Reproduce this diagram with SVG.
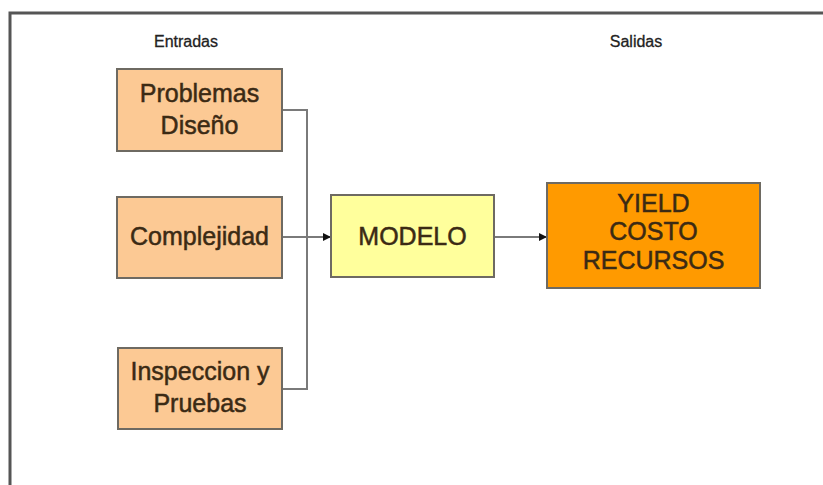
<svg xmlns="http://www.w3.org/2000/svg" width="823" height="485" viewBox="0 0 823 485">
<defs>
<style>
.box{stroke:#6e6a62;stroke-width:2}
.in{fill:#fcc994}
.t{font-family:"Liberation Sans",Arial,sans-serif;font-size:25px;fill:#3b2a14;stroke:#3b2a14;stroke-width:0.5;text-anchor:middle}
.h{font-family:"Liberation Sans",Arial,sans-serif;font-size:16px;fill:#222;stroke:#222;stroke-width:0.3;text-anchor:middle}
.c{fill:none;stroke:#7a7a7a;stroke-width:2}
</style>
<marker id="ar" markerWidth="8" markerHeight="8" refX="7" refY="4" orient="auto" markerUnits="userSpaceOnUse">
<path d="M0,0 L8,4 L0,8 z" fill="#111"/>
</marker>
</defs>
<rect width="823" height="485" fill="#fff"/>
<path d="M10,485 L10,13 L823,13" fill="none" stroke="#555" stroke-width="3"/>
<text class="h" x="186" y="47">Entradas</text>
<text class="h" x="636" y="47">Salidas</text>
<g id="connectors">
<path class="c" d="M282,110 L307,110 L307,389 L282,389"/>
<path class="c" d="M282,237 L330,237" marker-end="url(#ar)"/>
<path class="c" d="M494,237 L546,237" marker-end="url(#ar)"/>
</g>
<g id="problemas">
<rect class="box in" x="117" y="69" width="165" height="82"/>
<text class="t" x="199.5" y="102">Problemas</text>
<text class="t" x="199.5" y="134">Diseño</text>
</g>
<g id="complejidad">
<rect class="box in" x="117" y="197" width="165" height="81"/>
<text class="t" x="199.5" y="245">Complejidad</text>
</g>
<g id="inspeccion">
<rect class="box in" x="118" y="348" width="164" height="81"/>
<text class="t" x="200" y="380">Inspeccion y</text>
<text class="t" x="200" y="412">Pruebas</text>
</g>
<g id="modelo">
<rect class="box" x="331" y="195" width="163" height="82" fill="#ffff9c"/>
<text class="t" x="412.5" y="245">MODELO</text>
</g>
<g id="yield">
<rect class="box" x="547" y="183" width="213" height="105" fill="#ff9a00" stroke="#8a6a30"/>
<text class="t" x="653.5" y="212">YIELD</text>
<text class="t" x="653.5" y="240">COSTO</text>
<text class="t" x="653.5" y="269">RECURSOS</text>
</g>
</svg>
